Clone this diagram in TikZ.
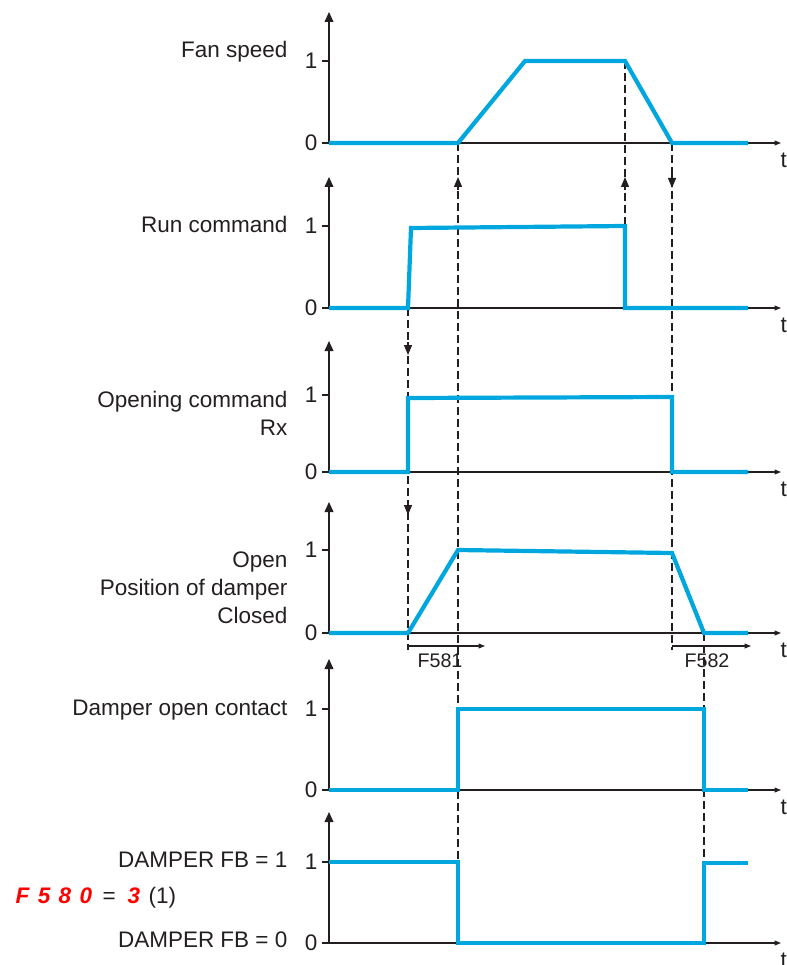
\documentclass[tikz,border=0pt]{standalone}
\usepackage{fontspec}
\setmainfont{Liberation Sans}
\usetikzlibrary{arrows.meta}
\definecolor{signal}{RGB}{0,166,222}
\definecolor{ink}{RGB}{35,31,32}
\begin{document}
\begin{tikzpicture}[x=0.25mm,y=-0.25mm,line width=0.3mm,color=ink,
	axis/.style={line width=0.3mm},
	wave/.style={signal,line width=1.05mm,line join=miter},
	guide/.style={line width=0.3mm,dash pattern=on 2mm off 1mm},
	cue/.style={-{Triangle[length=2.5mm,width=2mm]}},
	small/.style={-{Triangle[length=1.6mm,width=1.2mm]}},
	lbl/.style={anchor=east,align=right,inner sep=0pt,font=\fontsize{16}{20}\selectfont},
	lvl/.style={anchor=east,inner sep=0pt,font=\fontsize{16}{20}\selectfont}]
\useasboundingbox (0,0) rectangle (786,965);
\foreach \z/\u/\n in {143/61/a,308/226/b,472/395/c,633/550/d,790/709/e,943/862/f}{
	\draw[axis,-{Triangle[length=2.5mm,width=2.2mm]}] (329,\z) -- (329,\z-131);
	\draw[axis,small] (329,\z) -- (781,\z);
	\draw[axis] (322,\z) -- (329,\z) (322,\u) -- (329,\u);
	\node[lvl] (one\n) at (318,\u) {1};
	\node[lvl] (zero\n) at (318,\z) {0};
	\node[lvl,anchor=west] (t\n) at (780,\z+17) {t};
}
\draw[guide] (408,308) coordinate (runon) -- (408,650) coordinate (dlyA);
\draw[guide] (458,143) coordinate (fanup) -- (458,862) coordinate (fbdown);
\draw[guide] (625,61) coordinate (fandown) -- (625,226) coordinate (runoff);
\draw[guide] (672,143) coordinate (fanzero) -- (672,650) coordinate (dlyB);
\draw[guide] (704,633) coordinate (closed) -- (704,863) coordinate (fbup);
\draw[wave] (329,143) -- (fanup) -- (525,61) -- (fandown) -- (fanzero) -- (748,143);
\draw[wave] (329,308) -- (runon) -- (411,228) -- (runoff) -- (625,308) -- (748,308);
\draw[wave] (329,472) -- (408,472) -- (408,398) -- (672,397) -- (672,472) -- (748,472);
\draw[wave] (329,633) -- (408,633) -- (458,550) -- (672,553) -- (closed) -- (748,633);
\draw[wave] (329,790) -- (458,790) -- (458,709) -- (704,709) -- (704,790) -- (748,790);
\draw[wave] (329,862) -- (fbdown) -- (458,943) -- (704,943) -- (fbup) -- (748,863);
\draw[cue] (458,190) -- (458,177);
\draw[cue] (625,190) -- (625,177);
\draw[cue] (672,175) -- (672,188);
\draw[cue] (408,342) -- (408,355);
\draw[cue] (408,502) -- (408,515);
\draw[small] (408,646) -- (485,646);
\draw[small] (672,646) -- (751,646);
\node[font=\fontsize{14}{16}\selectfont] (fA) at (440,661) {F581};
\node[font=\fontsize{14}{16}\selectfont] (fB) at (707,661) {F582};
\node[lbl] (fan) at (288,52) {Fan speed};
\node[lbl] (run) at (288,224) {Run command};
\node[lbl] (rx) at (288,413) {Opening command\\Rx};
\node[lbl] (pos) at (288,588) {Open\\Position of damper\\Closed};
\node[lbl] (contact) at (288,710) {Damper open contact};
\node[lbl] (fbA) at (288,860) {DAMPER FB = 1};
\node[lbl] (fbB) at (288,940) {DAMPER FB = 0};
\node[lbl,anchor=west] (cfg) at (15,898) {\textcolor{red}{\bfseries\itshape F\hspace{6pt}5\hspace{6pt}8\hspace{6pt}0}\hspace{3pt} =\hspace{4pt} \textcolor{red}{\bfseries\itshape 3}\hspace{1.5pt} (1)};
\end{tikzpicture}
\end{document}
